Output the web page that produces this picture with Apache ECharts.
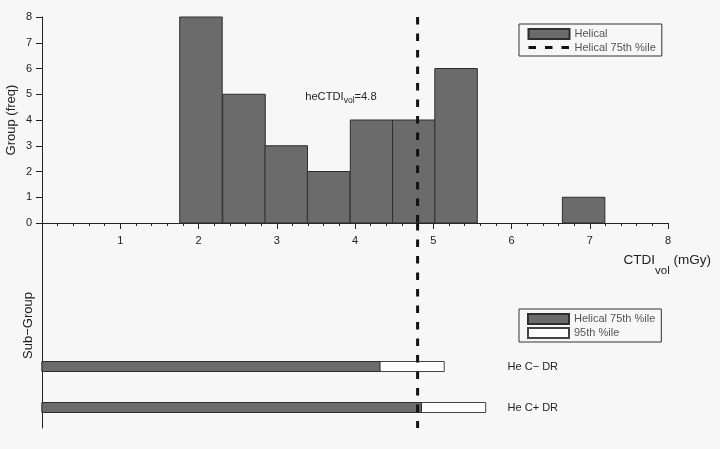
<!DOCTYPE html>
<html>
<head>
<meta charset="utf-8">
<script src="https://cdn.jsdelivr.net/npm/echarts@6/dist/echarts.min.js"></script>
<style>
  html, body { margin: 0; padding: 0; background: #f7f7f7; }
  #chart { width: 720px; height: 449px; }
</style>
</head>
<body>
<div id="chart"></div>
<script>
// Helical group: CTDIvol histogram (left bin edges, common bin width, counts)
const binLefts = [1.76, 2.31, 2.85, 3.39, 3.94, 4.48, 5.02, 5.56, 6.11, 6.65];
const binWidth = 0.543;
const counts = [8, 5, 3, 2, 4, 4, 6, 0, 0, 1];

// Helical 75th percentile (mGy)
const helicalP75 = 4.8;

// Sub-groups, bottom to top
const subGroups = ['He C+ DR', 'He C\u2212 DR'];
const subP75 = [4.85, 4.32];
const subP95 = [5.67, 5.14];

// Tick labels
const xTickLabels = ['', '1', '2', '3', '4', '5', '6', '7', '8'];
const yTickLabels = ['0', '1', '2', '3', '4', '5', '6', '7', '8'];

const FONT = '"Liberation Sans", Arial, Helvetica, sans-serif';
const INK = '#222';
const BAR_FILL = '#6b6b6b';
const BAR_EDGE = '#2e2e2e';
const LINE_DASH = [7.5, 9];

const chart = echarts.init(document.getElementById('chart'), null, { renderer: 'canvas' });

const histData = binLefts.map((b, i) => [b, counts[i]]);
const subP95Data = subP95.map((v, i) => [v, i]);
const subP75Data = subP75.map((v, i) => [v, i]);
const SUB_BAR_H = 10;
const SUB_LABEL_AT = 5.95; // x value where sub-group names start

function subBar(fill, stroke, withLabel) {
  return function (params, api) {
    const v = api.value(0), i = api.value(1);
    const a = api.coord([0, i]);
    const b = api.coord([v, i]);
    const children = [{
      type: 'rect',
      shape: { x: a[0], y: a[1] - SUB_BAR_H / 2, width: b[0] - a[0], height: SUB_BAR_H },
      style: { fill: fill, stroke: stroke, lineWidth: 1 }
    }];
    if (withLabel) {
      const t = api.coord([SUB_LABEL_AT, i]);
      children.push({
        type: 'text',
        x: t[0], y: t[1],
        style: {
          text: subGroups[params.dataIndex],
          fontFamily: FONT, fontSize: 11, fill: INK,
          align: 'left', verticalAlign: 'middle'
        }
      });
    }
    return { type: 'group', children: children };
  };
}

const legendBase = {
  orient: 'vertical',
  left: 519,
  padding: [4, 6, 3, 8],
  itemWidth: 41, itemHeight: 10, itemGap: 2,
  selectedMode: false,
  borderColor: '#333', borderWidth: 1,
  textStyle: { fontFamily: FONT, fontSize: 11, color: '#555' }
};

const option = {
  backgroundColor: '#f7f7f7',
  animation: false,
  textStyle: { fontFamily: FONT, color: INK },
  grid: [
    { left: 42, width: 626, top: 17, height: 206, outerBoundsMode: 'none', containLabel: false },
    { left: 42, width: 626, top: 223, height: 205, outerBoundsMode: 'none', containLabel: false }
  ],
  legend: [
    Object.assign({}, legendBase, {
      top: 24,
      lineStyle: { width: 3 },
      data: [
        { name: 'Helical', icon: 'rect' },
        { name: 'Helical 75th %ile' }
      ]
    }),
    Object.assign({}, legendBase, {
      top: 309,
      formatter: n => n.replace(' (sub-group)', ''),
      data: [
        { name: 'Helical 75th %ile (sub-group)', icon: 'rect' },
        { name: '95th %ile', icon: 'rect' }
      ]
    })
  ],
  xAxis: [
    {
      type: 'value', gridIndex: 0, min: 0, max: 8, interval: 1,
      axisLine: { show: true, onZero: false, lineStyle: { color: INK, width: 1 } },
      axisTick: { show: true, inside: false, length: 6, lineStyle: { color: INK } },
      minorTick: { show: true, splitNumber: 5, length: 3, lineStyle: { color: INK } },
      axisLabel: { margin: 12, fontSize: 11, color: INK, fontFamily: FONT,
                   formatter: v => xTickLabels[Math.round(v)] },
      splitLine: { show: false },
      name: '{m|CTDI}{s|vol}{m| (mGy)}',
      nameLocation: 'end',
      nameGap: 43,
      nameMoveOverlap: false,
      nameTextStyle: {
        align: 'right', verticalAlign: 'top', padding: [30, 0, 0, 0],
        rich: {
          m: { fontFamily: FONT, fontSize: 13.5, color: INK, verticalAlign: 'top' },
          s: { fontFamily: FONT, fontSize: 11.5, color: INK, verticalAlign: 'top', padding: [12, 0, 0, 0] }
        }
      }
    },
    {
      type: 'value', gridIndex: 1, min: 0, max: 8, interval: 1,
      show: false
    }
  ],
  yAxis: [
    {
      type: 'value', gridIndex: 0, min: 0, max: 8, interval: 1,
      axisLine: { show: true, lineStyle: { color: INK, width: 1 } },
      axisTick: { show: true, inside: false, length: 6, lineStyle: { color: INK } },
      axisLabel: { margin: 10, fontSize: 11, color: INK, fontFamily: FONT,
                   formatter: v => yTickLabels[Math.round(v)] },
      splitLine: { show: false },
      name: 'Group (freq)',
      nameLocation: 'middle',
      nameGap: 24,
      nameMoveOverlap: false,
      nameTextStyle: { fontFamily: FONT, fontSize: 13, color: INK }
    },
    {
      type: 'value', gridIndex: 1, min: -0.5, max: 4.5,
      axisLine: { show: true, lineStyle: { color: INK, width: 1 } },
      axisTick: { show: false },
      axisLabel: { show: false },
      splitLine: { show: false },
      name: 'Sub\u2212Group',
      nameLocation: 'middle',
      nameGap: 7,
      nameTextStyle: { fontFamily: FONT, fontSize: 13, color: INK }
    }
  ],
  series: [
    {
      name: 'Helical',
      type: 'custom',
      xAxisIndex: 0, yAxisIndex: 0,
      itemStyle: { color: BAR_FILL, borderColor: BAR_EDGE, borderWidth: 1 },
      data: histData,
      encode: { x: 0, y: 1 },
      renderItem: function (params, api) {
        const x0 = api.value(0), h = api.value(1);
        if (!h) return null;
        const p0 = api.coord([x0, 0]);
        const p1 = api.coord([x0 + binWidth, h]);
        return {
          type: 'rect',
          shape: { x: p0[0], y: p1[1], width: p1[0] - p0[0], height: p0[1] - p1[1] },
          style: { fill: BAR_FILL, stroke: BAR_EDGE, lineWidth: 1 }
        };
      },
      markPoint: {
        symbol: 'circle', symbolSize: 0,
        data: [{ coord: [3.82, 4.85] }],
        label: {
          show: true, position: 'inside',
          formatter: '{m|heCTDI}{s|vol}{m|=' + helicalP75.toFixed(1) + '}',
          rich: {
            m: { fontFamily: FONT, fontSize: 11.2, color: INK, verticalAlign: 'top' },
            s: { fontFamily: FONT, fontSize: 8.5, color: INK, verticalAlign: 'top', padding: [5, 0, 0, 0] }
          }
        }
      }
    },
    {
      name: '95th %ile',
      type: 'custom',
      xAxisIndex: 1, yAxisIndex: 1,
      itemStyle: { color: '#ffffff', borderColor: '#444', borderWidth: 1 },
      data: subP95Data,
      encode: { x: 0, y: 1 },
      renderItem: subBar('#ffffff', '#444', true)
    },
    {
      name: 'Helical 75th %ile (sub-group)',
      type: 'custom',
      xAxisIndex: 1, yAxisIndex: 1,
      itemStyle: { color: BAR_FILL, borderColor: BAR_EDGE, borderWidth: 1 },
      data: subP75Data,
      encode: { x: 0, y: 1 },
      renderItem: subBar(BAR_FILL, BAR_EDGE, false)
    },
    {
      name: 'Helical 75th %ile',
      type: 'line',
      xAxisIndex: 0, yAxisIndex: 0,
      symbol: 'none',
      z: 5,
      lineStyle: { color: '#111', width: 3, type: LINE_DASH },
      itemStyle: { color: '#111', opacity: 0 },
      data: [[helicalP75, 8], [helicalP75, 0]]
    },
    {
      name: 'Helical 75th %ile',
      type: 'line',
      xAxisIndex: 1, yAxisIndex: 1,
      symbol: 'none',
      z: 5,
      lineStyle: { color: '#111', width: 3, type: LINE_DASH, dashOffset: 0 },
      itemStyle: { color: '#111', opacity: 0 },
      data: [[helicalP75, 4.5], [helicalP75, -0.5]]
    }
  ]
};

chart.setOption(option);
</script>
</body>
</html>
